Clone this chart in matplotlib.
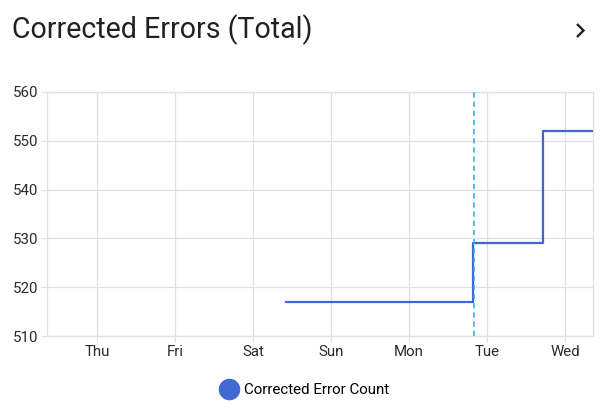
import matplotlib.pyplot as plt
from matplotlib.lines import Line2D

# Data: x in days since Thursday 00:00
day_labels = ["Thu", "Fri", "Sat", "Sun", "Mon", "Tue", "Wed"]
day_positions = [0, 1, 2, 3, 4, 5, 6]
step_times = [2.42, 4.82, 5.72, 6.36]
error_counts = [517, 529, 552, 552]
marker_time = 4.83
y_ticks = [510, 520, 530, 540, 550, 560]

plt.rcParams['font.family'] = ['Roboto', 'DejaVu Sans']

W, H = 610, 415
fig = plt.figure(figsize=(W / 100, H / 100), dpi=100)
ax = fig.add_axes([47 / W, 1 - 336 / H, (593 - 47) / W, (336 - 92) / H])

grid_col = "#e0e0e0"
ax.step(step_times, error_counts, where="post", color="#3f67d1", lw=1.6, zorder=3)
ax.axvline(marker_time, color="#29a9e0", lw=1.1, ls=(0, (3.5, 2.5)), zorder=4)

ax.set_xlim(-0.641, 6.36)
ax.set_ylim(510, 560)
ax.set_xticks(day_positions)
ax.set_xticklabels(day_labels)
ax.set_yticks(y_ticks)
ax.grid(True, color=grid_col, lw=0.9)
for s in ax.spines.values():
    s.set_color(grid_col)
    s.set_linewidth(0.9)
ax.tick_params(axis="both", color=grid_col, length=4, width=0.9,
               labelsize=10.8, labelcolor="#2b2b2b", pad=2.5)

fig.text(12 / W, 1 - 30 / H, "Corrected Errors (Total)", fontsize=20.6,
         color="#212121", va="center", ha="left")

# chevron icon at the top right
fig.add_artist(Line2D([577 / W, 583.5 / W, 577 / W],
                      [1 - 24 / H, 1 - 30.5 / H, 1 - 37 / H],
                      transform=fig.transFigure, color="#212121", lw=1.7,
                      solid_joinstyle="miter", solid_capstyle="butt"))

handle = Line2D([], [], marker="o", ls="", markersize=14.5,
                markerfacecolor="#4169d3", markeredgecolor="#4169d3")
fig.legend([handle], ["Corrected Error Count"], loc="center",
           bbox_to_anchor=(304 / W, 1 - 390 / H), frameon=False,
           fontsize=10.9, handletextpad=0.35, handlelength=1.3)

fig.savefig("out.png", dpi=100)
